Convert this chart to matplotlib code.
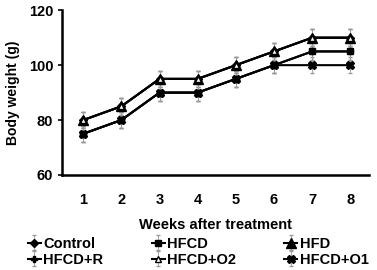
import matplotlib.pyplot as plt
import numpy as np

plt.rcParams['font.family'] = ['Liberation Sans', 'DejaVu Sans']
plt.rcParams['font.weight'] = 'bold'

weeks = [1, 2, 3, 4, 5, 6, 7, 8]
control = [80, 85, 95, 95, 100, 105, 110, 110]
hfcd = [75, 80, 90, 90, 95, 100, 105, 105]
hfd = [80, 85, 95, 95, 100, 105, 110, 110]
hfcd_r = [75, 80, 90, 90, 95, 100, 105, 105]
hfcd_o2 = [80, 85, 95, 95, 100, 105, 110, 110]
hfcd_o1 = [75, 80, 90, 90, 95, 100, 100, 100]
err = [3, 3, 3, 3, 3, 3, 3, 3]

series = [
    ("Control", control, dict(marker='D', markersize=4, mfc='black')),
    ("HFCD", hfcd, dict(marker='s', markersize=4, mfc='black')),
    ("HFD", hfd, dict(marker='^', markersize=7, mfc='black')),
    ("HFCD+R", hfcd_r, dict(marker='P', markersize=5, mfc='black')),
    ("HFCD+O2", hfcd_o2, dict(marker='^', markersize=5, mfc='white', mew=1.0)),
    ("HFCD+O1", hfcd_o1, dict(marker='X', markersize=6, mfc='black')),
]

fig = plt.figure(figsize=(3.77, 2.70), dpi=100)
ax = fig.add_axes([0.165, 0.352, 0.815, 0.61])

for name, vals, style in series:
    ax.errorbar(weeks, vals, yerr=err, color='black', ecolor='#999999',
                elinewidth=0.6, capsize=1.2, lw=1.5, mec='black',
                label=name, **style)

ax.set_xlim(0.45, 8.5)
ax.set_ylim(60, 120)
ax.set_yticks([60, 80, 100, 120])
ax.set_xticks(weeks)
ax.spines['top'].set_visible(False)
ax.spines['right'].set_visible(False)
ax.spines['left'].set_linewidth(1.8)
ax.spines['bottom'].set_linewidth(1.8)
ax.tick_params(axis='x', length=0, pad=13, labelsize=10.5)
ax.tick_params(axis='y', length=3, width=1.2, labelsize=10.5)
for lab in ax.get_xticklabels() + ax.get_yticklabels():
    lab.set_fontweight('bold')
ax.set_ylabel("Body weight (g)", fontsize=10, fontweight='bold', labelpad=6)
ax.set_xlabel("Weeks after treatment", fontsize=10.5, fontweight='bold', labelpad=8)

handles, labels = ax.get_legend_handles_labels()
# reorder for row-wise filling in 3 columns
order = [0, 3, 1, 4, 2, 5]
leg = fig.legend([handles[i] for i in order], [labels[i] for i in order],
                 loc='lower left', bbox_to_anchor=(0.058, -0.01, 0.935, 0.13),
                 mode='expand', ncol=3, borderaxespad=0,
                 frameon=False, handlelength=0.9,
                 handletextpad=0.15, labelspacing=0.15,
                 prop={'weight': 'bold', 'size': 10.5})

fig.savefig("out.png", dpi=100)
